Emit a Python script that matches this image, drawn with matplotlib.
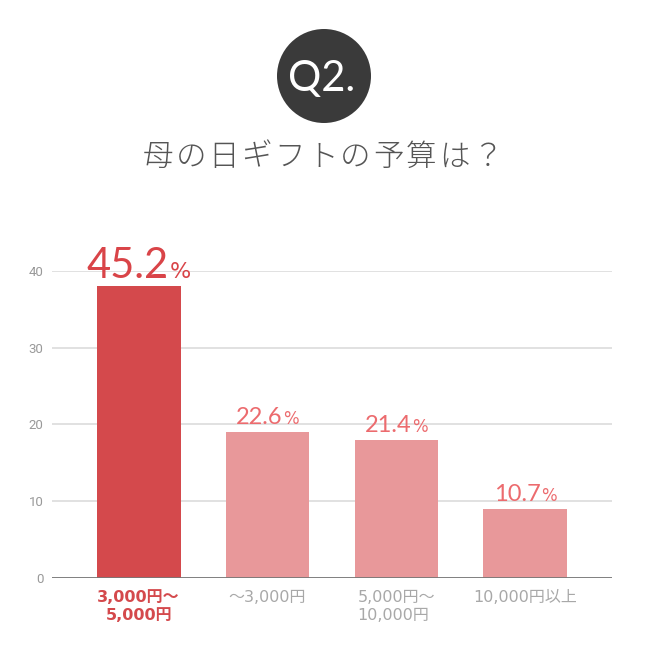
import matplotlib
matplotlib.use("Agg")
import matplotlib.pyplot as plt
from matplotlib.patches import Circle

# データ
categories = ["3,000円〜\n5,000円", "〜3,000円", "5,000円〜\n10,000円", "10,000円以上"]
counts = [38, 19, 18, 9]
percents = [45.2, 22.6, 21.4, 10.7]
yticks = [0, 10, 20, 30, 40]
title = "母の日ギフトの予算は？"
badge = "Q2."

jp = ["Noto Sans CJK JP", "DejaVu Sans"]
lat = ["DejaVu Sans", "Noto Sans CJK JP"]
red = "#d4494c"
pink = "#e8989a"

fig = plt.figure(figsize=(6.5, 6.5), dpi=100)
ax = fig.add_axes([52/650, 1 - 577.7/650, 560/650, 306.8/650])

colors = [red] + [pink] * (len(counts) - 1)
x = range(len(counts))
ax.bar(x, counts, width=0.65, color=colors, zorder=3)

ax.set_xlim(-0.672, 3.672)
ax.set_ylim(0, 40)
ax.set_yticks(yticks)
ax.yaxis.grid(True, color="#dcdcdc", lw=1.2, zorder=0)
ax.axhline(0, color="#777777", lw=2, zorder=4)
for s in ax.spines.values():
	s.set_visible(False)
ax.tick_params(axis="y", length=0, pad=6, labelsize=9.5, labelcolor="#999999")
ax.tick_params(axis="x", length=0, pad=9)
for lab in ax.get_yticklabels():
	lab.set_family("Roboto")

ax.set_xticks(list(x))
ax.set_xticklabels(categories, family=lat, fontsize=11.5, linespacing=1.2)
for i, lab in enumerate(ax.get_xticklabels()):
	if i == 0:
		lab.set_color(red)
		lab.set_fontweight("bold")
	else:
		lab.set_color("#a8a8a8")
	if i == 2:
		lab.set_multialignment("left")

# パーセント表示
labels = []
for i, (v, p) in enumerate(zip(counts, percents)):
	big = i == 0
	off = 8
	col = "#d94448" if big else "#ec6b6e"
	t1 = ax.annotate(f"{p:.1f}", xy=(i, v), xytext=(0, off), textcoords="offset pixels",
		ha="left", va="baseline", fontsize=30 if big else 17, color=col, family="Lato")
	t2 = ax.annotate("%", xy=(i, v), xytext=(0, off), textcoords="offset pixels",
		ha="left", va="baseline", fontsize=16 if big else 12, color=col, family="DejaVu Sans")
	labels.append((t1, t2, off))

fig.canvas.draw()
r = fig.canvas.get_renderer()
for t1, t2, off in labels:
	w1 = t1.get_window_extent(r).width
	w2 = t2.get_window_extent(r).width
	start = -(w1 + w2 + 1) / 2
	t1.xyann = (start, off)
	t2.xyann = (start + w1 + 1, off)

# タイトル
x0, pitch = 158, 32.9
for k, ch in enumerate(title):
	fig.text((x0 + k * pitch) / 650, 1 - 156.7/650, ch, ha="center", va="center",
		fontsize=22, color="#555555", family=jp, fontweight="light")

# Q2. バッジ
fig.patches.append(Circle((324/650, 1 - 76/650), 47/650, transform=fig.transFigure,
	facecolor="#3a3a3a", edgecolor="none"))
fig.text(322/650, 1 - 79/650, badge, ha="center", va="center", fontsize=30,
	color="white", family="Lato")

fig.savefig("out.png", dpi=100)
